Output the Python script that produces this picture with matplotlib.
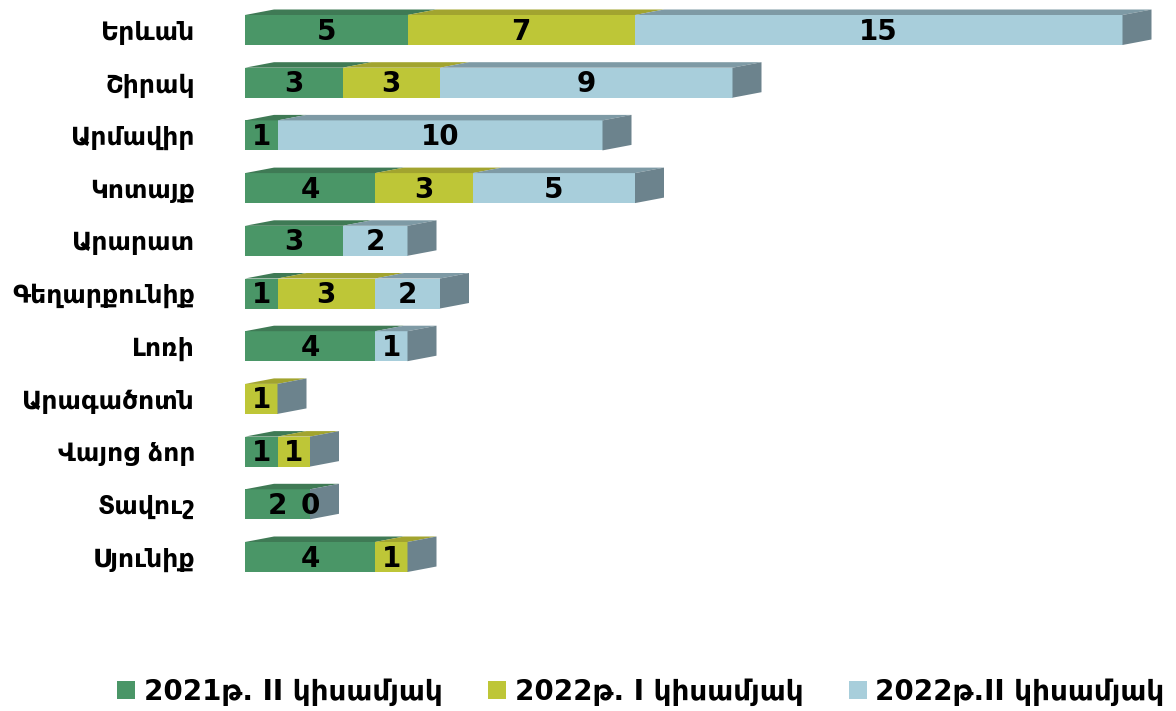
import matplotlib
matplotlib.use("Agg")
import matplotlib.pyplot as plt
from matplotlib.patches import Polygon, Patch
import numpy as np

# ==============================
# Data
# ==============================

regions = ["Երևան", "Շիրակ", "Արմավիր", "Կոտայք", "Արարատ", "Գեղարքունիք",
           "Լոռի", "Արագածոտն", "Վայոց ձոր", "Տավուշ", "Սյունիք"]

h2_2021 = [5, 3, 1, 4, 3, 1, 4, None, 1, 2, 4]
h1_2022 = [7, 3, None, 3, None, 3, None, 1, 1, 0, 1]
h2_2022 = [15, 9, 10, 5, 2, 2, 1, None, None, None, None]

series_names = ["2021թ. II կիսամյակ", "2022թ. I կիսամյակ", "2022թ.II կիսամյակ"]
front_colors = ["#4A9667", "#BEC637", "#A8CEDB"]
top_colors = ["#3F7A55", "#A2A42F", "#7E9AA5"]
side_color = "#6C838D"

plt.rcParams["font.family"] = ["DejaVu Sans"]
plt.rcParams["font.weight"] = "bold"

# ==============================
# Figure
# ==============================

W, H = 1176, 711
fig = plt.figure(figsize=(W / 100, H / 100), dpi=100)

ax_left, ax_top, ax_bottom = 245, 0, 600
ax = fig.add_axes([ax_left / W, 1 - ax_bottom / H, 1 - ax_left / W, (ax_bottom - ax_top) / H])

px_per_unit = 32.5
row_px = 52.7
xmax = (W - ax_left) / px_per_unit
ax.set_xlim(0, xmax)
ax.set_ylim((ax_bottom - 30) / row_px, -30 / row_px)

bar_h = 30 / row_px
dx = 29 / px_per_unit
dy = -5.5 / row_px

y = np.arange(len(regions))
series = [h2_2021, h1_2022, h2_2022]

left = np.zeros(len(regions))
segments = [[] for _ in regions]
for s, vals in enumerate(series):
    v = np.array([np.nan if a is None else a for a in vals], dtype=float)
    w = np.nan_to_num(v)
    ax.barh(y, w, left=left, height=bar_h, color=front_colors[s], zorder=2)
    for i in range(len(regions)):
        if not np.isnan(v[i]):
            segments[i].append((left[i], w[i], s))
    left = left + w

# 3D look: top faces per segment + grey side face at bar end
for i in range(len(regions)):
    top = y[i] - bar_h / 2
    bot = y[i] + bar_h / 2
    for x0, w, s in segments[i]:
        if w > 0:
            ax.add_patch(Polygon([(x0, top), (x0 + dx, top + dy), (x0 + w + dx, top + dy), (x0 + w, top)],
                                 closed=True, facecolor=top_colors[s], edgecolor="none", zorder=2))
        ax.text(x0 + w / 2, y[i] + 0.03, f"{int(w)}", ha="center", va="center",
                fontsize=20, fontweight="bold", color="black", zorder=4)
    xe = left[i]
    ax.add_patch(Polygon([(xe, bot), (xe + dx, bot + dy), (xe + dx, top + dy), (xe, top)],
                         closed=True, facecolor=side_color, edgecolor="none", zorder=3))

ax.set_yticks(y)
ax.set_yticklabels(regions, fontsize=18, fontweight="bold")
ax.tick_params(axis="y", length=0, pad=36)
ax.set_xticks([])
for sp in ax.spines.values():
    sp.set_visible(False)

handles = [Patch(facecolor=c, edgecolor="none") for c in front_colors]
fig.legend(handles, series_names, loc="lower center", bbox_to_anchor=(0.545, -0.028), ncol=3,
           frameon=False, prop={"size": 20, "weight": "bold"}, handlelength=0.65, handleheight=0.65,
           handletextpad=0.3, columnspacing=1.65)

fig.savefig("out.png", dpi=100)
